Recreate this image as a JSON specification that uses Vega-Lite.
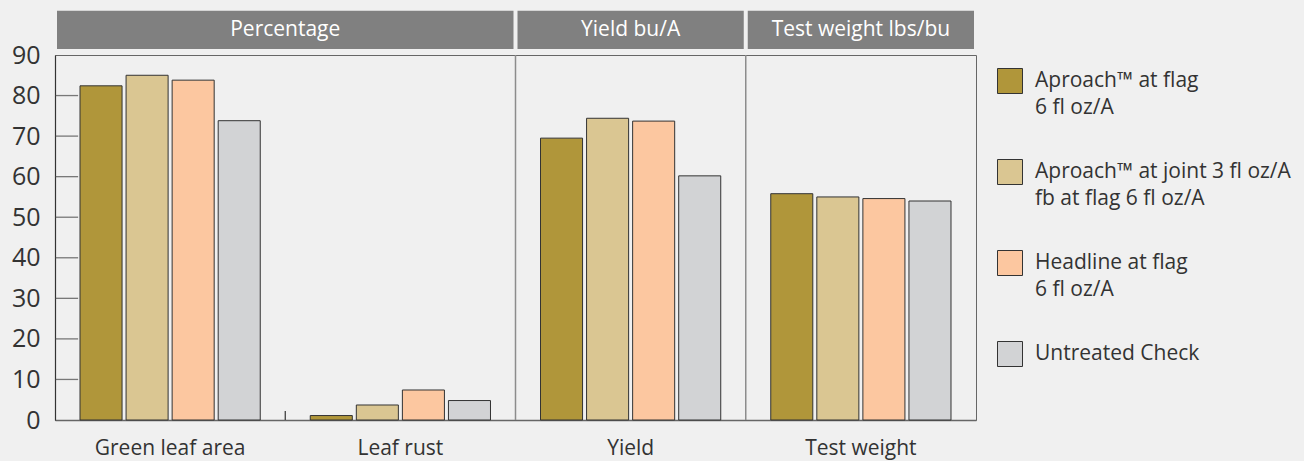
{
  "$schema": "https://vega.github.io/schema/vega-lite/v6.json",
  "width": 921,
  "height": 365,
  "autosize": {"type": "none"},
  "padding": {"left": 55, "top": 55, "right": 328, "bottom": 41},
  "background": "#f0f0f0",
  "config": {
    "font": "Open Sans",
    "view": {"stroke": "#666", "strokeWidth": 1},
    "style": {"guide-label": {"lineHeight": 27}}
  },
  "datasets": {
    "bars": [
      {"metric": "Green leaf area", "treatment": "Aproach™ at flag 6 fl oz/A", "value": 82.4},
      {"metric": "Green leaf area", "treatment": "Aproach™ at joint 3 fl oz/A fb at flag 6 fl oz/A", "value": 85.0},
      {"metric": "Green leaf area", "treatment": "Headline at flag 6 fl oz/A", "value": 83.8},
      {"metric": "Green leaf area", "treatment": "Untreated Check", "value": 73.8},
      {"metric": "Leaf rust", "treatment": "Aproach™ at flag 6 fl oz/A", "value": 1.1},
      {"metric": "Leaf rust", "treatment": "Aproach™ at joint 3 fl oz/A fb at flag 6 fl oz/A", "value": 3.7},
      {"metric": "Leaf rust", "treatment": "Headline at flag 6 fl oz/A", "value": 7.4},
      {"metric": "Leaf rust", "treatment": "Untreated Check", "value": 4.8},
      {"metric": "Yield", "treatment": "Aproach™ at flag 6 fl oz/A", "value": 69.5},
      {"metric": "Yield", "treatment": "Aproach™ at joint 3 fl oz/A fb at flag 6 fl oz/A", "value": 74.4},
      {"metric": "Yield", "treatment": "Headline at flag 6 fl oz/A", "value": 73.7},
      {"metric": "Yield", "treatment": "Untreated Check", "value": 60.2},
      {"metric": "Test weight", "treatment": "Aproach™ at flag 6 fl oz/A", "value": 55.8},
      {"metric": "Test weight", "treatment": "Aproach™ at joint 3 fl oz/A fb at flag 6 fl oz/A", "value": 55.0},
      {"metric": "Test weight", "treatment": "Headline at flag 6 fl oz/A", "value": 54.6},
      {"metric": "Test weight", "treatment": "Untreated Check", "value": 54.0}
    ],
    "headers": [
      {"header": "Percentage", "first": "Green leaf area", "last": "Leaf rust"},
      {"header": "Yield bu/A", "first": "Yield", "last": "Yield"},
      {"header": "Test weight lbs/bu", "first": "Test weight", "last": "Test weight"}
    ],
    "dividers": [
      {"metric": "Yield"},
      {"metric": "Test weight"}
    ],
    "groupTicks": [
      {"metric": "Leaf rust"}
    ],
    "yTicks": [
      {"tick": 10}, {"tick": 20}, {"tick": 30}, {"tick": 40}, {"tick": 50},
      {"tick": 60}, {"tick": 70}, {"tick": 80}
    ]
  },
  "layer": [
    {
      "data": {"name": "bars"},
      "mark": {"type": "bar", "stroke": "#333", "strokeWidth": 1},
      "encoding": {
        "x": {
          "field": "metric", "type": "nominal", "title": null,
          "scale": {"domain": ["Green leaf area", "Leaf rust", "Yield", "Test weight"], "paddingInner": 0, "paddingOuter": 0},
          "axis": {"ticks": false, "bandPosition": 0.5, "labelPadding": 17, "labelFontSize": 21, "labelColor": "#333", "domainColor": "#666", "domainWidth": 1.5, "labelAngle": 0}
        },
        "xOffset": {
          "field": "treatment", "type": "nominal",
          "scale": {"domain": ["Aproach™ at flag 6 fl oz/A", "Aproach™ at joint 3 fl oz/A fb at flag 6 fl oz/A", "Headline at flag 6 fl oz/A", "Untreated Check"], "paddingInner": 0.087, "paddingOuter": 0.543}
        },
        "y": {
          "field": "value", "type": "quantitative", "title": null,
          "scale": {"domain": [0, 90], "nice": false, "zero": true},
          "axis": {"values": [0, 10, 20, 30, 40, 50, 60, 70, 80, 90], "grid": false, "ticks": false, "labelPadding": 15, "labelFontSize": 25, "labelColor": "#333", "domainColor": "#333", "domainWidth": 1.2}
        },
        "color": {
          "field": "treatment", "type": "nominal",
          "scale": {
            "domain": ["Aproach™ at flag 6 fl oz/A", "Aproach™ at joint 3 fl oz/A fb at flag 6 fl oz/A", "Headline at flag 6 fl oz/A", "Untreated Check"],
            "range": ["#b0963a", "#dac692", "#fcc7a0", "#d2d3d5"]
          },
          "legend": {
            "title": null,
            "orient": "right",
            "offset": 8,
            "padding": 13,
            "symbolType": "square",
            "symbolSize": 625,
            "symbolStrokeColor": "#333",
            "symbolStrokeWidth": 1,
            "labelFontSize": 21,
            "labelColor": "#333",
            "labelLimit": 400,
            "labelOffset": 12,
            "rowPadding": 39,
            "labelExpr": "datum.label == 'Aproach™ at flag 6 fl oz/A' ? ['Aproach™ at flag', '6 fl oz/A'] : datum.label == 'Headline at flag 6 fl oz/A' ? ['Headline at flag', '6 fl oz/A'] : datum.label == 'Untreated Check' ? datum.label : ['Aproach™ at joint 3 fl oz/A', 'fb at flag 6 fl oz/A']"
          }
        }
      }
    },
    {
      "data": {"name": "yTicks"},
      "mark": {"type": "tick", "color": "#444", "size": 23, "thickness": 1.3, "orient": "horizontal", "xOffset": -103.5},
      "encoding": {
        "x": {"datum": "Green leaf area", "type": "nominal", "title": null},
        "y": {"field": "tick", "type": "quantitative", "title": null}
      }
    },
    {
      "data": {"name": "headers"},
      "mark": {"type": "rect", "color": "#808080", "xOffset": 2, "x2Offset": -2},
      "encoding": {
        "x": {"field": "first", "type": "nominal", "bandPosition": 0, "title": null},
        "x2": {"field": "last", "bandPosition": 1},
        "y": {"datum": 91.5},
        "y2": {"datum": 100.9}
      }
    },
    {
      "data": {"name": "headers"},
      "transform": [{"filter": "datum.header == 'Percentage'"}],
      "mark": {"type": "text", "color": "white", "fontSize": 21, "baseline": "middle"},
      "encoding": {
        "x": {"field": "last", "type": "nominal", "bandPosition": 0, "title": null},
        "y": {"datum": 96.2},
        "text": {"field": "header"}
      }
    },
    {
      "data": {"name": "headers"},
      "transform": [{"filter": "datum.header != 'Percentage'"}],
      "mark": {"type": "text", "color": "white", "fontSize": 21, "baseline": "middle"},
      "encoding": {
        "x": {"field": "first", "type": "nominal", "bandPosition": 0.5, "title": null},
        "y": {"datum": 96.2},
        "text": {"field": "header"}
      }
    },
    {
      "data": {"name": "dividers"},
      "mark": {"type": "rule", "color": "#8c8c8c", "strokeWidth": 1.5},
      "encoding": {
        "x": {"field": "metric", "type": "nominal", "bandPosition": 0, "title": null},
        "y": {"datum": 0},
        "y2": {"datum": 90}
      }
    },
    {
      "data": {"name": "groupTicks"},
      "mark": {"type": "rule", "color": "#333", "strokeWidth": 1.2},
      "encoding": {
        "x": {"field": "metric", "type": "nominal", "bandPosition": 0, "title": null},
        "y": {"datum": 0},
        "y2": {"datum": 2.2}
      }
    }
  ]
}
